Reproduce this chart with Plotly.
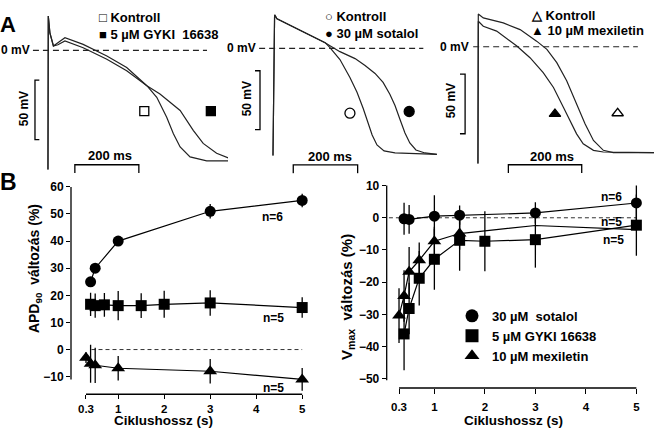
import plotly.graph_objects as go

W, H = 654, 428
FONT = "Liberation Sans, Arial, sans-serif"


def px(x):
    return x / W


def py(y):
    return 1 - y / H


# ---------------- Panel A : action potentials (time in ms, voltage in mV) ----
p1_ctrl_t = [-1, 0, 5, 16, 30, 52, 109, 183, 245, 308, 339, 370, 391, 412, 443, 495, 599]
p1_ctrl_v = [-100, 28.7, 14.7, 3.7, 6.4, 10.6, 5.0, -4.7, -14.4, -29.7, -39.4, -56.1, -70, -81.1, -89.4, -92.7, -92.7]
p1_drug_t = [-1, 0, 5, 16, 30, 52, 109, 183, 245, 308, 349, 412, 453, 484, 526, 568, 599]
p1_drug_v = [-100, 28.7, 14.7, 3.7, 4.7, 7.8, 2.2, -7.5, -17.2, -29.7, -36.7, -50.5, -67.1, -78.1, -86.4, -90.8, -91.6]

p2_ctrl_t = [-1, 4, 11.5, 36, 83, 133, 161, 176, 207, 238, 260, 279, 294, 307, 322, 344, 378, 440, 508]
p2_ctrl_v = [-91, 28.4, 25.0, 21.7, 15.8, 9.0, 4.8, 0.6, -9.5, -24.7, -37.3, -50.8, -62.6, -73.6, -82.0, -87.1, -88.8, -89.6, -90]
p2_drug_t = [-1, 4, 11.5, 36, 83, 133, 161, 176, 207, 254, 285, 316, 341, 362, 378, 393, 409, 424, 443, 471, 508]
p2_drug_v = [-91, 28.4, 25.0, 21.7, 15.8, 9.0, 4.8, 2.3, -2.8, -8.7, -14.6, -21.3, -28.9, -39.0, -48.5, -60.0, -71.9, -80.3, -86.3, -88.8, -90]

p3_ctrl_t = [-1, 0, 13.6, 68, 114, 159, 187, 214, 241, 268, 291, 314, 341, 368, 479]
p3_ctrl_v = [-98, 27.5, 24.2, 20, 14.4, 4.7, -2.2, -13.3, -28.6, -48.1, -64.7, -78.6, -86.9, -88.9, -88.9]
p3_drug_t = [-1, 0, 13.6, 50, 105, 141, 177, 205, 232, 250, 268, 286, 314, 341, 479]
p3_drug_v = [-98, 21.4, 17.2, 13.1, 0.6, -9.2, -21.7, -34.2, -50.8, -61.9, -73.1, -81.4, -86.9, -88.3, -88.9]

# curve identification symbols (ms, mV)
p1_sym_t = [300, 508]
p1_sym_v = [-51, -51]
p2_sym_t = [238, 422]
p2_sym_v = [-55, -53.6]
p3_sym_t = [209, 380]
p3_sym_v = [-56.4, -55.8]

# ---------------- Panel B : rate dependence ----------------
cl_apd_sot = [0.4, 0.5, 1, 3, 5]
apd_sot = [25, 30, 40, 51, 55]
apd_sot_err = [1.0, 1.5, 1.5, 2.7, 2.5]
cl_apd_gyki = [0.4, 0.5, 0.7, 1, 1.5, 2, 3, 5]
apd_gyki = [16.7, 16.2, 16.5, 16.2, 16.2, 16.7, 17.2, 15.5]
apd_gyki_err = [4.3, 4.5, 4.4, 5.4, 4.6, 5.0, 4.7, 3.8]
cl_apd_mex = [0.3, 0.4, 0.5, 1, 3, 5]
apd_mex = [-3.0, -5.2, -5.8, -6.9, -8.0, -11.0]
apd_mex_err = [2.0, 7.0, 6.5, 4.5, 4.5, 4.2]

cl_vmax_sot = [0.4, 0.5, 1, 1.5, 3, 5]
vmax_sot = [-0.3, -0.5, 0.5, 0.8, 1.5, 4.6]
vmax_sot_err = [5.0, 4.5, 6.5, 3.0, 3.3, 5.4]
cl_vmax_gyki = [0.4, 0.5, 0.7, 1, 1.5, 2, 3, 5]
vmax_gyki = [-36.1, -28.2, -18.8, -12.9, -7.0, -7.3, -6.8, -2.3]
vmax_gyki_err = [11.3, 8.0, 8.5, 9.5, 9.5, 9.3, 8.7, 9.5]
cl_vmax_mex = [0.3, 0.4, 0.5, 0.7, 1, 1.5, 3, 5]
vmax_mex = [-30.4, -24.3, -16.8, -13.2, -7.3, -4.9, -2.4, -3.7]
vmax_mex_err = [8.5, 8.0, 7.7, 5.5, 4.5, 5.0, 0, 0]
n_mex_marked = 6  # last two points have no visible symbol

x_tickvals = [0.3, 1, 2, 3, 4, 5]
x_ticktext = ["0.3", "1", "2", "3", "4", "5"]
apd_tickvals = [-10, 0, 10, 20, 30, 40, 50, 60]
vmax_tickvals = [-50, -40, -30, -20, -10, 0, 10]

legend_names = ["30 µM\u00a0\u00a0sotalol", "5 µM GYKI 16638", "10 µM mexiletin"]

fig = go.Figure()

TRACE = dict(color="#222222", width=1.2)

# ---- Panel A traces
for (t, v, ax) in [
    (p1_ctrl_t, p1_ctrl_v, 3), (p1_drug_t, p1_drug_v, 3),
    (p2_ctrl_t, p2_ctrl_v, 4), (p2_drug_t, p2_drug_v, 4),
    (p3_ctrl_t, p3_ctrl_v, 5), (p3_drug_t, p3_drug_v, 5),
]:
    fig.add_trace(go.Scatter(x=t, y=v, mode="lines", line=TRACE,
                             xaxis=f"x{ax}", yaxis=f"y{ax}", showlegend=False,
                             hoverinfo="skip"))

sym_specs = [
    (p1_sym_t, p1_sym_v, ["square-open", "square"], 3, 9),
    (p2_sym_t, p2_sym_v, ["circle-open", "circle"], 4, 10),
    (p3_sym_t, p3_sym_v, ["triangle-up", "triangle-up-open"], 5, 10),
]
for t, v, syms, ax, sz in sym_specs:
    fig.add_trace(go.Scatter(x=t, y=v, mode="markers",
                             marker=dict(symbol=syms, size=sz, color="black",
                                         line=dict(color="black", width=1.3)),
                             xaxis=f"x{ax}", yaxis=f"y{ax}", showlegend=False,
                             cliponaxis=False, hoverinfo="skip"))

# ---- Panel B traces
ERR = lambda arr: dict(type="data", array=arr, visible=True, width=0,
                       thickness=1.3, color="black")
LINE_B = dict(color="black", width=1.2)

fig.add_trace(go.Scatter(x=cl_apd_sot, y=apd_sot, error_y=ERR(apd_sot_err),
                         mode="lines+markers", line=LINE_B,
                         marker=dict(symbol="circle", size=11, color="black"),
                         xaxis="x", yaxis="y", showlegend=False, cliponaxis=False))
fig.add_trace(go.Scatter(x=cl_apd_gyki, y=apd_gyki, error_y=ERR(apd_gyki_err),
                         mode="lines+markers", line=LINE_B,
                         marker=dict(symbol="square", size=11, color="black"),
                         xaxis="x", yaxis="y", showlegend=False, cliponaxis=False))
fig.add_trace(go.Scatter(x=cl_apd_mex, y=apd_mex, error_y=ERR(apd_mex_err),
                         mode="lines+markers", line=LINE_B,
                         marker=dict(symbol="triangle-up", size=12, color="black"),
                         xaxis="x", yaxis="y", showlegend=False, cliponaxis=False))

fig.add_trace(go.Scatter(x=cl_vmax_mex, y=vmax_mex, mode="lines", line=LINE_B,
                         xaxis="x2", yaxis="y2", showlegend=False))
fig.add_trace(go.Scatter(x=cl_vmax_mex[:n_mex_marked], y=vmax_mex[:n_mex_marked],
                         error_y=ERR(vmax_mex_err[:n_mex_marked]),
                         mode="markers",
                         marker=dict(symbol="triangle-up", size=12, color="black",
                                     line=dict(width=0)),
                         xaxis="x2", yaxis="y2", showlegend=False, cliponaxis=False))
fig.add_trace(go.Scatter(x=cl_vmax_gyki, y=vmax_gyki, error_y=ERR(vmax_gyki_err),
                         mode="lines+markers", line=LINE_B,
                         marker=dict(symbol="square", size=11, color="black"),
                         xaxis="x2", yaxis="y2", showlegend=False, cliponaxis=False))
fig.add_trace(go.Scatter(x=cl_vmax_sot, y=vmax_sot, error_y=ERR(vmax_sot_err),
                         mode="lines+markers", line=LINE_B,
                         marker=dict(symbol="circle", size=11, color="black"),
                         xaxis="x2", yaxis="y2", showlegend=False, cliponaxis=False))

# legend entries (marker only)
for name, sym in zip(legend_names, ["circle", "square", "triangle-up"]):
    fig.add_trace(go.Scatter(x=[None], y=[None], mode="markers", name=name,
                             marker=dict(symbol=sym, size=13, color="black"),
                             xaxis="x2", yaxis="y2", showlegend=True))

# ---------------- Layout ----------------
TICKFONT = dict(family=FONT, size=12, color="black", weight="bold")
XTICKFONT = dict(family=FONT, size=11.5, color="black", weight="bold")
common = dict(showgrid=False, zeroline=False, showline=False, ticks="outside",
              tickcolor="black", tickwidth=1.3, fixedrange=True)
hidden = dict(visible=False, showgrid=False, zeroline=False, fixedrange=True)

fig.update_layout(
    width=W, height=H, margin=dict(l=0, r=0, t=0, b=0),
    paper_bgcolor="white", plot_bgcolor="white",
    font=dict(family=FONT, color="black"),
    xaxis=dict(domain=[px(71), px(310)], range=[-0.026, 5.17], anchor="y",
               tickvals=x_tickvals, ticktext=x_ticktext, ticklen=4,
               tickfont=XTICKFONT, **common),
    yaxis=dict(domain=[py(394), py(180)], range=[-16.48, 61.9], anchor="x",
               tickvals=apd_tickvals, ticklen=4, tickfont=TICKFONT, **common),
    xaxis2=dict(domain=[px(386.7), px(650)], range=[0.056, 5.27], anchor="y2",
                tickvals=x_tickvals, ticktext=x_ticktext, ticklen=5,
                ticklabelstandoff=3, tickfont=XTICKFONT, **common),
    yaxis2=dict(domain=[py(387.7), py(180)], range=[-52.9, 11.2], anchor="x2",
                tickvals=vmax_tickvals, ticklen=4, tickfont=TICKFONT, **common),
    xaxis3=dict(domain=[0, px(245)], range=[-150.9, 614.7], anchor="y3", **hidden),
    yaxis3=dict(domain=[py(172), 1], range=[-103.6, 39.7], anchor="x3", **hidden),
    xaxis4=dict(domain=[px(228), px(445)], range=[-140.7, 533.3], anchor="y4", **hidden),
    yaxis4=dict(domain=[py(172), 1], range=[-106.5, 38.5], anchor="x4", **hidden),
    xaxis5=dict(domain=[px(438), 1], range=[-109.9, 479.1], anchor="y5", **hidden),
    yaxis5=dict(domain=[py(172), 1], range=[-106.6, 36.7], anchor="x5", **hidden),
    showlegend=True,
    legend=dict(x=px(452), y=py(300), xanchor="left", yanchor="top",
                bgcolor="rgba(0,0,0,0)", borderwidth=0,
                font=dict(family=FONT, size=13, color="black", weight="bold"),
                tracegroupgap=0, itemclick=False, itemdoubleclick=False),
)

shapes = []
# axis lines for panel B (detached style)
shapes.append(dict(type="line", xref="x", yref="y domain", x0=0.3, x1=5, y0=0, y1=0,
                   line=dict(color="black", width=1.3)))
shapes.append(dict(type="line", xref="x domain", yref="y", x0=0, x1=0, y0=-11, y1=60,
                   line=dict(color="black", width=1.3)))
shapes.append(dict(type="line", xref="x2", yref="y2 domain", x0=0.3, x1=5, y0=0, y1=0,
                   line=dict(color="black", width=1.3)))
shapes.append(dict(type="line", xref="x2 domain", yref="y2", x0=0, x1=0, y0=-50.5, y1=10,
                   line=dict(color="black", width=1.3)))
# zero reference lines panel B
shapes.append(dict(type="line", xref="x", yref="y", x0=0.42, x1=5, y0=0, y1=0,
                   line=dict(color="#333333", width=1, dash="4px,3px"), layer="below"))
shapes.append(dict(type="line", xref="x2", yref="y2", x0=0.1, x1=5, y0=0, y1=0,
                   line=dict(color="#333333", width=1, dash="4px,3px"), layer="below"))

# panel A: 0 mV dashed lines, 50 mV bars, 200 ms bars
dash_top = dict(color="#222222", width=1.2, dash="6px,4px")
for ax, t0, t1 in [(3, -48, 496), (4, -44, 466), (5, -14, 435)]:
    shapes.append(dict(type="line", xref=f"x{ax}", yref=f"y{ax}", x0=t0, x1=t1,
                       y0=0, y1=0, line=dash_top))
bar = dict(color="black", width=1.3)
# 50 mV bars: (axis, vertical x, tick end x, top mV, bottom mV)
for ax, xv, xt, vt, vb in [(3, -41.6, -28, -25, -75), (4, -41.3, -56.8, -19, -69),
                           (5, -36, -50, -23, -73)]:
    shapes.append(dict(type="path", xref=f"x{ax}", yref=f"y{ax}",
                       path=f"M {xt},{vt} L {xv},{vt} L {xv},{vb} L {xt},{vb}", line=bar))
# 200 ms bars: (axis, start ms, top mV, bottom mV)
for ax, ts, vt, vb in [(3, 83, -96, -103), (4, 62, -99, -106), (5, 82, -99, -106)]:
    te = ts + 200
    shapes.append(dict(type="path", xref=f"x{ax}", yref=f"y{ax}",
                       path=f"M {ts},{vb} L {ts},{vt} L {te},{vt} L {te},{vb}", line=bar))
fig.update_layout(shapes=shapes)

ann = []


def add_text(text, x, y, size=12, xanchor="center", angle=0, bold=True):
    ann.append(dict(text=f"<b>{text}</b>" if bold else text, x=px(x), y=py(y),
                    xref="paper", yref="paper", xanchor=xanchor, yanchor="middle",
                    showarrow=False, textangle=angle,
                    font=dict(family=FONT, size=size, color="black")))


add_text("A", 8, 22, size=22)
add_text("B", 8, 180, size=23)

# panel A legends
add_text("□ Kontroll", 97, 15, size=13, xanchor="left")
add_text("■ 5 µM GYKI\u00a0\u00a016638", 97, 32, size=13, xanchor="left")
add_text("○ Kontroll", 323, 14, size=13, xanchor="left")
add_text("● 30 µM sotalol", 323, 31, size=13, xanchor="left")
add_text("△ Kontroll", 529, 13, size=13, xanchor="left")
add_text("▲ 10 µM mexiletin", 529, 28, size=13, xanchor="left")

# 0 mV labels
add_text("0 mV", 32, 47.7, size=12, xanchor="right")
add_text("0 mV", 258, 45.7, size=12, xanchor="right")
add_text("0 mV", 471, 44, size=12, xanchor="right")
# 50 mV labels
add_text("50 mV", 24, 107, size=12, angle=-90)
add_text("50 mV", 247, 96, size=12, angle=-90)
add_text("50 mV", 451, 99, size=12, angle=-90)
# 200 ms labels
add_text("200 ms", 110, 154, size=13)
add_text("200 ms", 330, 155, size=13)
add_text("200 ms", 552, 155, size=13)

# panel B labels
add_text("APD<sub>90</sub>\u00a0\u00a0változás (%)", 35, 268, size=14, angle=-90)
add_text("V<sub>max</sub>\u00a0\u00a0változás (%)", 348, 296, size=15, angle=-90)
add_text("Ciklushossz (s)", 164, 420.5, size=13.5)
add_text("Ciklushossz (s)", 513, 420.5, size=13.5)
add_text("n=6", 272, 216, size=12)
add_text("n=5", 273, 317, size=12)
add_text("n=5", 273, 388, size=12)
add_text("n=6", 611, 195, size=12)
add_text("n=5", 611, 221, size=12)
add_text("n=5", 613, 239, size=12)

fig.update_layout(annotations=ann)

fig.write_html("out.html", config={"displayModeBar": False},
               post_script="document.body.style.margin='0';")
